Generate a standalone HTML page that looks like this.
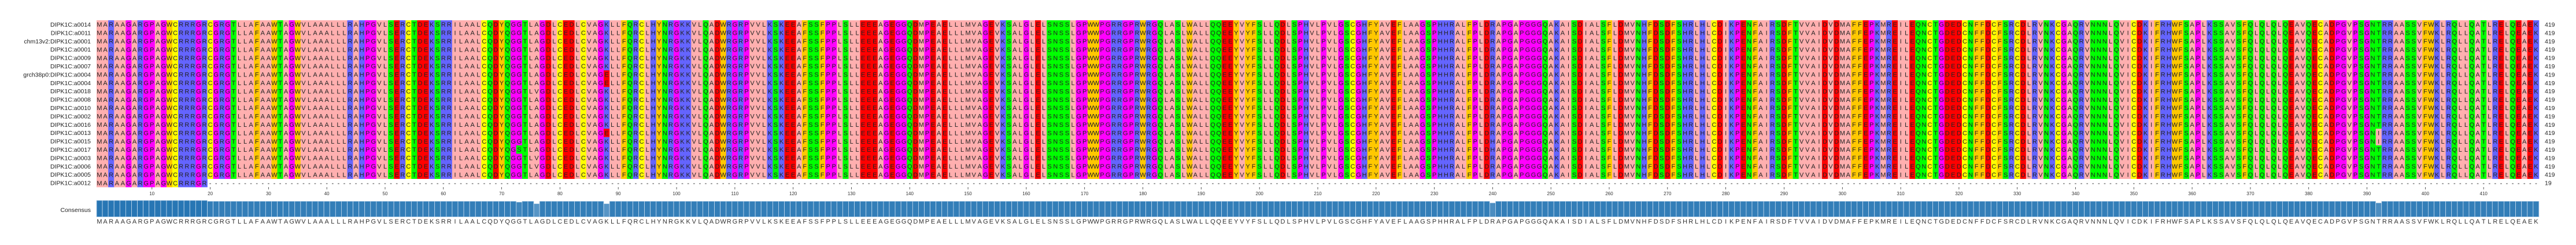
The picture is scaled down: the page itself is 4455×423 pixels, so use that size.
<!DOCTYPE html>
<html><head><meta charset="utf-8">
<style>
html,body{margin:0;padding:0;background:#fff;}
svg{display:block;}
text{font-family:"Liberation Sans",sans-serif;}
</style></head>
<body>
<svg id="chart" width="4455" height="423" viewBox="0 0 4455 423" xmlns="http://www.w3.org/2000/svg">
<g id="cells"></g>
<g id="letters"></g>
<g id="labels"></g>
<g id="counts"></g>
<g id="ticks"></g>
<g id="cons"></g>
</svg>
<script>
const seqNames = ["DIPK1C:a0014","DIPK1C:a0011","chm13v2:DIPK1C:a0001","DIPK1C:a0001","DIPK1C:a0009","DIPK1C:a0007","grch38p0:DIPK1C:a0004","DIPK1C:a0004","DIPK1C:a0018","DIPK1C:a0008","DIPK1C:a0010","DIPK1C:a0002","DIPK1C:a0016","DIPK1C:a0013","DIPK1C:a0015","DIPK1C:a0017","DIPK1C:a0003","DIPK1C:a0006","DIPK1C:a0005","DIPK1C:a0012"];
const consensusParts = [
"MARAAGARGPAGWCRRRGRCGRGTLLAFAAWTAGWVLAAALLLRAHPGVLSERCTDEKSRR",
"ILAALCQDYQGGTLAGDLCEDLCVAGKLLFQRCLHYNRGKKVLQADWRGRPVVLKSKEEA",
"FSSFPPLSLLEEEAGEGGQDMPEAELLLMVAGEVKSALGLELSNSSLGPWWPGRRGPRWRG",
"QLASLWALLQQEEYVYFSLLQDLSPHVLPVLGSCGHFYAVEFLAAGSPHHRALFPLDRAP",
"GAPGGGQAKAISDIALSFLDMVNHFDSDFSHRLHLCDIKPENFAIRSDFTVVAIDVDMAFF",
"EPKMREILEQNCTGDEDCNFFDCFSRCDLRVNKCGAQRVNNNLQVICDKIFRHWFSAPLK",
"SSAVSFQLQLQLQEAVQECADPGVPSGNTRRAASSVFWKLRQLLQATLRELQEAEK"];
// variants: [rowIndex, column(1-based), residue]
const variants = [
[15,73,"S"],[8,76,"V"],[16,76,"V"],[17,76,"V"],
[6,88,"E"],[7,88,"E"],[13,88,"E"],
[14,240,"H"],[15,240,"H"],
[13,392,"I"],[14,392,"I"],
[10,404,"R"],[11,404,"R"],[12,404,"R"],[13,404,"R"],[14,404,"R"],[15,404,"R"],[17,404,"R"],[18,404,"R"]];
const gapRows = [19];
const gapStartCol = [20];
const tickLabels = [10,20,30,40,50,60,70,80,90,100,110,120,130,140,150,160,170,180,190,200,210,220,230,240,250,260,270,280,290,300,310,320,330,340,350,360,370,380,390,400,410];

const X0=167, CW=10.081, Y0=35, RH=14.4;
const NS="http://www.w3.org/2000/svg";
const colX = c => X0 + (c-1)*CW;          // left edge of 1-based column
const rowY = r => Y0 + r*RH;
const zappo = {A:"#ffafaf",I:"#ffafaf",L:"#ffafaf",M:"#ffafaf",V:"#ffafaf",F:"#ffc800",W:"#ffc800",Y:"#ffc800",K:"#6464ff",R:"#6464ff",H:"#6464ff",D:"#ff0000",E:"#ff0000",S:"#00ff00",T:"#00ff00",N:"#00ff00",Q:"#00ff00",P:"#ff00ff",G:"#ff00ff",C:"#ffff00"};

const consensus = consensusParts.join("");
const L = consensus.length;
const rows = seqNames.map(()=>consensus.split(""));
variants.forEach(v=>{rows[v[0]][v[1]-1]=v[2];});
gapRows.forEach((r,i)=>{for(let c=gapStartCol[i];c<=L;c++) rows[r][c-1]="-";});

function mk(tag, attrs, parent){const e=document.createElementNS(NS,tag);for(const k in attrs)e.setAttribute(k,attrs[k]);parent.appendChild(e);return e;}

const gCells=document.getElementById("cells"), gLet=document.getElementById("letters");
const gLab=document.getElementById("labels"), gCnt=document.getElementById("counts");
const gTick=document.getElementById("ticks"), gCons=document.getElementById("cons");

rows.forEach((seq,r)=>{
  // background cells, merging runs of equal colour
  let c=0;
  while(c<L){
    const col=zappo[seq[c]];
    let e=c+1;
    while(e<L && zappo[seq[e]]===col) e++;
    if(col){
      const rc=mk("rect",{x:colX(c+1).toFixed(2),y:rowY(r).toFixed(2),width:((e-c)*CW+0.3).toFixed(2),height:(RH+0.3).toFixed(2),fill:col},gCells);
      
      
    }
    c=e;
  }
  const xs=[]; for(let i=0;i<L;i++) xs.push((colX(i+1)+CW/2).toFixed(1));
  const t=mk("text",{x:xs.join(" "),y:(rowY(r)+RH/2+4).toFixed(1),"font-size":"11","text-anchor":"middle",fill:"#222"},gLet);
  
  
  t.textContent=seq.join("");
  const lb=mk("text",{x:157,y:(rowY(r)+RH/2+3.8).toFixed(1),"font-size":"10.5","text-anchor":"end",fill:"#222"},gLab);
  
  
  lb.textContent=seqNames[r];
  const n=seq.filter(ch=>ch!=="-").length;
  const ct=mk("text",{x:4401,y:(rowY(r)+RH/2+3.8).toFixed(1),"font-size":"10.5",fill:"#222"},gCnt);
  
  
  ct.textContent=n;
});

tickLabels.forEach(v=>{
  const x=colX(v)+CW/2;
  const ln=mk("line",{x1:x.toFixed(1),x2:x.toFixed(1),y1:323,y2:327,stroke:"#333","stroke-width":"0.8"},gTick);
  
  
  const tl=mk("text",{x:x.toFixed(1),y:337,"font-size":"8","text-anchor":"middle",fill:"#333"},gTick);
  
  
  tl.textContent=v;
});

const cl=mk("text",{x:157,y:366,"font-size":"10.5","text-anchor":"end",fill:"#222"},gCons);


cl.textContent="Consensus";
const BT=346, BB=374.5;
function lerp(a,b,t){return Math.round(a+(b-a)*t);}
for(let c=1;c<=L;c++){
  let m=0; rows.forEach(s=>{if(s[c-1]===consensus[c-1])m++;});
  const f=m/rows.length;
  const h=(BB-BT)*f;
  const t=Math.max(0,Math.min(1,(1-f)/0.5));
  const fill=`rgb(${lerp(0x27,0x9e,t)},${lerp(0x76,0xc4,t)},${lerp(0xb4,0xe0,t)})`;
  const b=mk("rect",{x:colX(c).toFixed(2),y:(BB-h).toFixed(2),width:CW.toFixed(2),height:h.toFixed(2),fill:fill,stroke:"#c6dbef","stroke-width":"0.8"},gCons);
  
  
}
const xs=[]; for(let i=0;i<L;i++) xs.push((colX(i+1)+CW/2).toFixed(1));
const ct=mk("text",{x:xs.join(" "),y:386,"font-size":"11","text-anchor":"middle",fill:"#333"},gCons);


ct.textContent=consensus;
</script>
</body></html>
